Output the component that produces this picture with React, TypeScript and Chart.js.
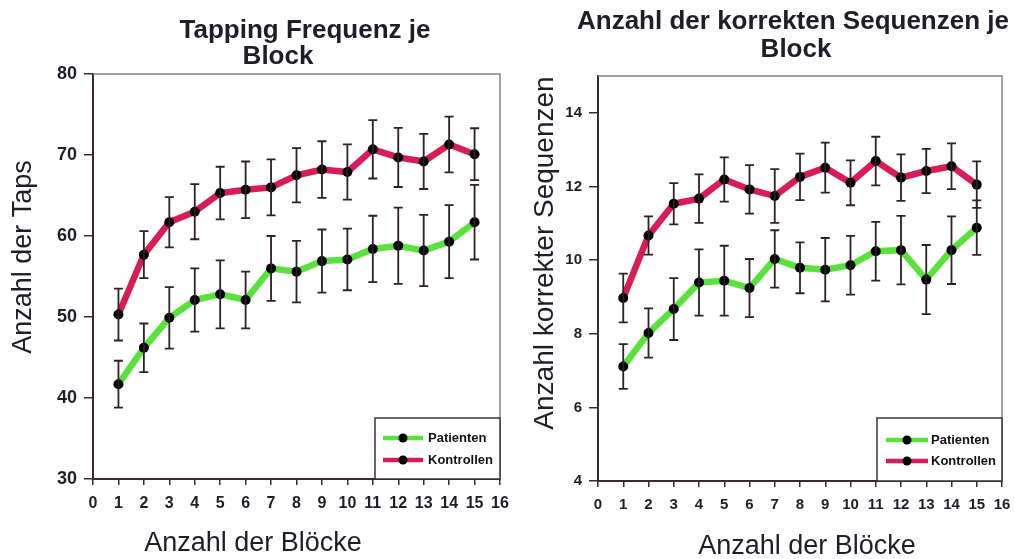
import React, { useEffect, useRef } from 'react';
import { Chart, registerables } from 'chart.js';

Chart.register(...registerables);

// ---------- data ----------
const blocks = [1, 2, 3, 4, 5, 6, 7, 8, 9, 10, 11, 12, 13, 14, 15];
const xTickValues = [0, 1, 2, 3, 4, 5, 6, 7, 8, 9, 10, 11, 12, 13, 14, 15, 16];

const seriesNames = ['Patienten', 'Kontrollen'];

const tapsYTicks = [30, 40, 50, 60, 70, 80];
const tapsPatienten = [41.7, 46.2, 49.9, 52.1, 52.8, 52.1, 56.0, 55.6, 56.9, 57.1, 58.4, 58.8, 58.2, 59.3, 61.7];
const tapsPatientenErr = [2.9, 3.0, 3.8, 3.9, 4.2, 3.5, 4.0, 3.8, 3.9, 3.8, 4.1, 4.7, 4.4, 4.5, 4.6];
const tapsKontrollen = [50.3, 57.7, 61.7, 63.0, 65.3, 65.7, 66.0, 67.5, 68.2, 67.9, 70.7, 69.7, 69.2, 71.3, 70.1];
const tapsKontrollenErr = [3.2, 2.9, 3.1, 3.4, 3.25, 3.5, 3.45, 3.35, 3.5, 3.4, 3.6, 3.65, 3.4, 3.45, 3.2];

const seqYTicks = [4, 6, 8, 10, 12, 14];
const seqPatienten = [7.11, 8.02, 8.67, 9.39, 9.44, 9.24, 10.03, 9.79, 9.74, 9.86, 10.24, 10.27, 9.47, 10.27, 10.88];
const seqPatientenErr = [0.61, 0.67, 0.84, 0.9, 0.95, 0.79, 0.78, 0.69, 0.86, 0.8, 0.8, 0.93, 0.94, 0.92, 0.74];
const seqKontrollen = [8.97, 10.67, 11.53, 11.67, 12.19, 11.92, 11.74, 12.26, 12.51, 12.1, 12.69, 12.24, 12.42, 12.55, 12.05];
const seqKontrollenErr = [0.66, 0.52, 0.56, 0.66, 0.6, 0.66, 0.73, 0.63, 0.68, 0.61, 0.66, 0.63, 0.6, 0.62, 0.63];

// ---------- style ----------
const H = 559;
const FONT = "'Liberation Sans', Arial, sans-serif";
const GREEN = '#5ae23c';
const RED = '#d81c56';
const TEXT = '#1f1d28';
const AXIS = '#3a2832';
const FRAME = '#8e7d8c';
const ERR = '#2e2029';

type Panel = {
  offset: number;
  width: number;
  area: { left: number; top: number; right: number; bottom: number };
  yMin: number;
  yMax: number;
  yTicks: number[];
  values: number[][];
  errors: number[][];
  titleLines: { text: string; x: number; y: number }[];
  yTitle: { text: string; x: number; y: number; size: number };
  xTitle: { text: string; x: number; y: number };
  legend: { x: number; y: number; w: number; h: number; lx1: number; lx2: number; dot: number; rows: number[]; tx: number };
  yTickFont: number;
  xTickFont: number;
};

const panels: Panel[] = [
  {
    offset: 0,
    width: 520,
    area: { left: 93, top: 74, right: 500, bottom: 479 },
    yMin: 30,
    yMax: 80,
    yTicks: tapsYTicks,
    values: [tapsPatienten, tapsKontrollen],
    errors: [tapsPatientenErr, tapsKontrollenErr],
    titleLines: [
      { text: 'Tapping Frequenz je', x: 305, y: 38 },
      { text: 'Block', x: 278, y: 64 },
    ],
    yTitle: { text: 'Anzahl der Taps', x: 24, y: 257, size: 27 },
    xTitle: { text: 'Anzahl der Blöcke', x: 253, y: 544 },
    legend: { x: 375, y: 418, w: 125, h: 61, lx1: 383, lx2: 423, dot: 403, rows: [438, 460], tx: 428 },
    yTickFont: 18,
    xTickFont: 16,
  },
  {
    offset: 520,
    width: 494,
    area: { left: 78, top: 76, right: 482, bottom: 481 },
    yMin: 4,
    yMax: 15,
    yTicks: seqYTicks,
    values: [seqPatienten, seqKontrollen],
    errors: [seqPatientenErr, seqKontrollenErr],
    titleLines: [
      { text: 'Anzahl der korrekten Sequenzen je', x: 273, y: 29 },
      { text: 'Block', x: 276, y: 57 },
    ],
    yTitle: { text: 'Anzahl korrekter Sequenzen', x: 25, y: 253, size: 28 },
    xTitle: { text: 'Anzahl der Blöcke', x: 287, y: 547 },
    legend: { x: 357, y: 418, w: 125, h: 63, lx1: 366, lx2: 408, dot: 387, rows: [440, 461], tx: 411 },
    yTickFont: 15,
    xTickFont: 15,
  },
];

const lineColors = [GREEN, RED];

function decorPlugin(p: Panel) {
  return {
    id: 'decor',
    beforeDatasetsDraw(chart: any) {
      const { ctx, chartArea } = chart;
      ctx.save();
      ctx.strokeStyle = FRAME;
      ctx.lineWidth = 1.5;
      ctx.beginPath();
      ctx.moveTo(chartArea.left, chartArea.top);
      ctx.lineTo(chartArea.right, chartArea.top);
      ctx.lineTo(chartArea.right, chartArea.bottom);
      ctx.stroke();
      ctx.restore();
    },
    afterDatasetsDraw(chart: any) {
      const { ctx } = chart;
      const xs = chart.scales.x;
      const ys = chart.scales.y;
      ctx.save();
      ctx.strokeStyle = ERR;
      ctx.lineWidth = 1.8;
      p.values.forEach((vals, si) => {
        const errs = p.errors[si];
        vals.forEach((v, i) => {
          const px = xs.getPixelForValue(blocks[i]);
          const t = ys.getPixelForValue(v + errs[i]);
          const b = ys.getPixelForValue(v - errs[i]);
          ctx.beginPath();
          ctx.moveTo(px, t);
          ctx.lineTo(px, b);
          ctx.moveTo(px - 4.5, t);
          ctx.lineTo(px + 4.5, t);
          ctx.moveTo(px - 4.5, b);
          ctx.lineTo(px + 4.5, b);
          ctx.stroke();
        });
      });
      ctx.restore();
    },
    afterDraw(chart: any) {
      const { ctx } = chart;
      ctx.save();
      ctx.fillStyle = TEXT;
      ctx.textAlign = 'center';
      ctx.textBaseline = 'alphabetic';
      ctx.font = `bold 26px ${FONT}`;
      p.titleLines.forEach((l) => ctx.fillText(l.text, l.x, l.y));

      ctx.font = `27px ${FONT}`;
      ctx.textBaseline = 'middle';
      ctx.fillText(p.xTitle.text, p.xTitle.x, p.xTitle.y);
      ctx.save();
      ctx.font = `${p.yTitle.size}px ${FONT}`;
      ctx.translate(p.yTitle.x, p.yTitle.y);
      ctx.rotate(-Math.PI / 2);
      ctx.fillText(p.yTitle.text, 0, 0);
      ctx.restore();

      // legend
      const L = p.legend;
      ctx.fillStyle = '#ffffff';
      ctx.fillRect(L.x, L.y, L.w, L.h);
      ctx.strokeStyle = '#3a3038';
      ctx.lineWidth = 1.5;
      ctx.strokeRect(L.x, L.y, L.w, L.h);
      seriesNames.forEach((name, i) => {
        const y = L.rows[i];
        ctx.strokeStyle = lineColors[i];
        ctx.lineWidth = 4.5;
        ctx.beginPath();
        ctx.moveTo(L.lx1, y);
        ctx.lineTo(L.lx2, y);
        ctx.stroke();
        ctx.fillStyle = '#000';
        ctx.beginPath();
        ctx.arc(L.dot, y, 4.5, 0, Math.PI * 2);
        ctx.fill();
        ctx.fillStyle = '#111';
        ctx.font = `bold 13px ${FONT}`;
        ctx.textAlign = 'left';
        ctx.textBaseline = 'middle';
        ctx.fillText(name, L.tx, y + 0.5);
      });
      ctx.restore();
    },
  };
}

function buildConfig(p: Panel): any {
  const datasets = p.values.map((vals, si) => ({
    label: seriesNames[si],
    data: blocks.map((b, i) => ({ x: b, y: vals[i] })),
    borderColor: lineColors[si],
    backgroundColor: lineColors[si],
    borderWidth: 6.5,
    pointRadius: 5,
    pointBackgroundColor: '#000',
    pointBorderColor: '#000',
    pointBorderWidth: 0,
    tension: 0,
    clip: false,
  }));
  return {
    type: 'line',
    data: { datasets },
    plugins: [decorPlugin(p)],
    options: {
      responsive: false,
      animation: false,
      events: [],
      layout: { padding: { left: 0, top: p.area.top, right: p.width - p.area.right, bottom: 0 } },
      plugins: { legend: { display: false }, tooltip: { enabled: false }, title: { display: false } },
      scales: {
        x: {
          type: 'linear',
          min: 0,
          max: 16,
          afterBuildTicks: (s: any) => {
            s.ticks = xTickValues.map((v) => ({ value: v }));
          },
          afterFit: (s: any) => {
            s.height = H - p.area.bottom;
            s.paddingLeft = 0;
            s.paddingRight = 0;
          },
          ticks: {
            autoSkip: false,
            maxRotation: 0,
            padding: 9,
            color: TEXT,
            font: { family: FONT, size: p.xTickFont, weight: 'bold' },
          },
          grid: { drawOnChartArea: false, drawTicks: true, tickLength: 6, color: AXIS, lineWidth: 1.5 },
          border: { display: true, color: AXIS, width: 2 },
        },
        y: {
          type: 'linear',
          min: p.yMin,
          max: p.yMax,
          afterBuildTicks: (s: any) => {
            s.ticks = p.yTicks.map((v) => ({ value: v }));
          },
          afterFit: (s: any) => {
            s.width = p.area.left;
            s.paddingTop = 0;
            s.paddingBottom = 0;
          },
          ticks: {
            padding: 7,
            color: TEXT,
            font: { family: FONT, size: p.yTickFont, weight: 'bold' },
          },
          grid: { drawOnChartArea: false, drawTicks: true, tickLength: 9, color: AXIS, lineWidth: 1.5 },
          border: { display: true, color: AXIS, width: 2 },
        },
      },
    },
  };
}

function PanelChart({ panel }: { panel: Panel }) {
  const ref = useRef<HTMLCanvasElement>(null);
  useEffect(() => {
    if (!ref.current) return;
    const chart = new Chart(ref.current, buildConfig(panel));
    return () => chart.destroy();
  }, [panel]);
  return (
    <canvas
      ref={ref}
      width={panel.width}
      height={H}
      style={{ position: 'absolute', left: panel.offset, top: 0, width: panel.width, height: H }}
    />
  );
}

export default function App() {
  return (
    <div style={{ position: 'fixed', left: 0, top: 0, width: 1014, height: H, background: '#fff', overflow: 'hidden' }}>
      {panels.map((p, i) => (
        <PanelChart key={i} panel={p} />
      ))}
    </div>
  );
}
